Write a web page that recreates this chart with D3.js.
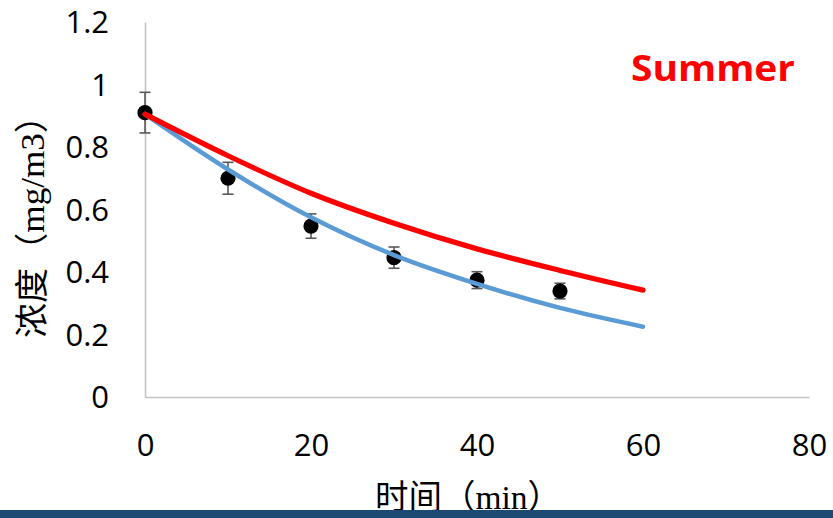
<!DOCTYPE html>
<html>
<head>
<meta charset="utf-8">
<script src="https://cdn.jsdelivr.net/npm/d3@7/dist/d3.min.js"></script>
<style>
  html, body { margin: 0; padding: 0; background: #fff; }
  svg { display: block; }
</style>
</head>
<body>
<svg id="chart" width="833" height="518"></svg>
<script>
// Measured concentrations (mean ± error) over time
const sampleTimes = [0, 10, 20, 30, 40, 50];
const sampleMeans = [0.910, 0.700, 0.547, 0.446, 0.374, 0.339];
const sampleErrors = [0.065, 0.051, 0.039, 0.034, 0.027, 0.025];

// Fitted decay curves
const curveTimes = [0, 10, 20, 30, 40, 50, 60];
const redCurve = [0.905, 0.772, 0.652, 0.556, 0.474, 0.405, 0.342];
const blueCurve = [0.905, 0.728, 0.575, 0.454, 0.362, 0.285, 0.225];

// Axis ticks
const xTicks = [0, 20, 40, 60, 80];
const yTicks = [0, 0.2, 0.4, 0.6, 0.8, 1, 1.2];

const svg = d3.select("#chart");
const x = d3.scaleLinear().domain([0, 80]).range([145, 809]);
const y = d3.scaleLinear().domain([0, 1.2]).range([397, 22]);

const tickFont = "'Open Sans', sans-serif";

// Y axis
const yAxis = svg.append("g")
  .attr("transform", `translate(${x(0)},0)`)
  .call(d3.axisLeft(y).tickValues(yTicks).tickSize(0).tickPadding(36)
    .tickFormat(d => d3.format("")(+d.toFixed(1))));
yAxis.select(".domain").attr("stroke", "#c4c4c4").attr("stroke-width", 1.6);
yAxis.selectAll("text")
  .attr("font-family", tickFont).attr("font-size", 31).attr("fill", "#000")
  .attr("dy", "0.34em");

// X axis
const xAxis = svg.append("g")
  .attr("transform", `translate(0,${y(0)})`)
  .call(d3.axisBottom(x).tickValues(xTicks).tickSize(0).tickPadding(37));
xAxis.select(".domain").attr("stroke", "#c4c4c4").attr("stroke-width", 1.6);
xAxis.selectAll("text")
  .attr("font-family", tickFont).attr("font-size", 31).attr("fill", "#000");

// Sample points with error bars
const pts = sampleTimes.map((t, i) => ({ t, m: sampleMeans[i], e: sampleErrors[i] }));
const eb = svg.append("g").attr("stroke", "#595959").attr("stroke-width", 1.6).attr("fill", "none");
pts.forEach(p => {
  const cx = x(p.t), top = y(p.m + p.e), bot = y(p.m - p.e);
  eb.append("line").attr("x1", cx).attr("x2", cx).attr("y1", top).attr("y2", bot);
  eb.append("line").attr("x1", cx - 5.5).attr("x2", cx + 5.5).attr("y1", top).attr("y2", top);
  eb.append("line").attr("x1", cx - 5.5).attr("x2", cx + 5.5).attr("y1", bot).attr("y2", bot);
});
svg.append("g").selectAll("circle").data(pts).join("circle")
  .attr("cx", d => x(d.t)).attr("cy", d => y(d.m)).attr("r", 7.6).attr("fill", "#000");

// Fitted curves
const line = d3.line().x(d => x(d[0])).y(d => y(d[1])).curve(d3.curveCatmullRom);
svg.append("path")
  .datum(curveTimes.map((t, i) => [t, blueCurve[i]]))
  .attr("d", line).attr("fill", "none").attr("stroke", "#5b9bd5")
  .attr("stroke-width", 4.5).attr("stroke-linecap", "round");
svg.append("path")
  .datum(curveTimes.map((t, i) => [t, redCurve[i]]))
  .attr("d", line).attr("fill", "none").attr("stroke", "#ff0000")
  .attr("stroke-width", 5.2).attr("stroke-linecap", "round");

// Season label
svg.append("text")
  .attr("x", 631).attr("y", 81)
  .attr("font-family", tickFont).attr("font-weight", 700).attr("font-size", 35)
  .attr("fill", "#ff0000")
  .attr("textLength", 164).attr("lengthAdjust", "spacingAndGlyphs")
  .text("Summer");

// Axis titles
const titleFont = "'Liberation Serif', 'Noto Sans CJK SC', serif";
svg.append("text")
  .attr("transform", "translate(44,218) rotate(-90)")
  .attr("text-anchor", "middle")
  .attr("font-family", titleFont).attr("font-size", 34).attr("fill", "#000")
  .attr("textLength", 240).attr("lengthAdjust", "spacingAndGlyphs")
  .text("浓度（mg/m3）");
svg.append("text")
  .attr("x", 468).attr("y", 509)
  .attr("text-anchor", "middle")
  .attr("font-family", titleFont).attr("font-size", 34).attr("fill", "#000")
  .attr("textLength", 186).attr("lengthAdjust", "spacingAndGlyphs")
  .text("时间（min）");

// Footer band
svg.append("rect")
  .attr("x", 0).attr("y", 510).attr("width", 833).attr("height", 8)
  .attr("fill", "#1d4a72");
</script>
</body>
</html>
